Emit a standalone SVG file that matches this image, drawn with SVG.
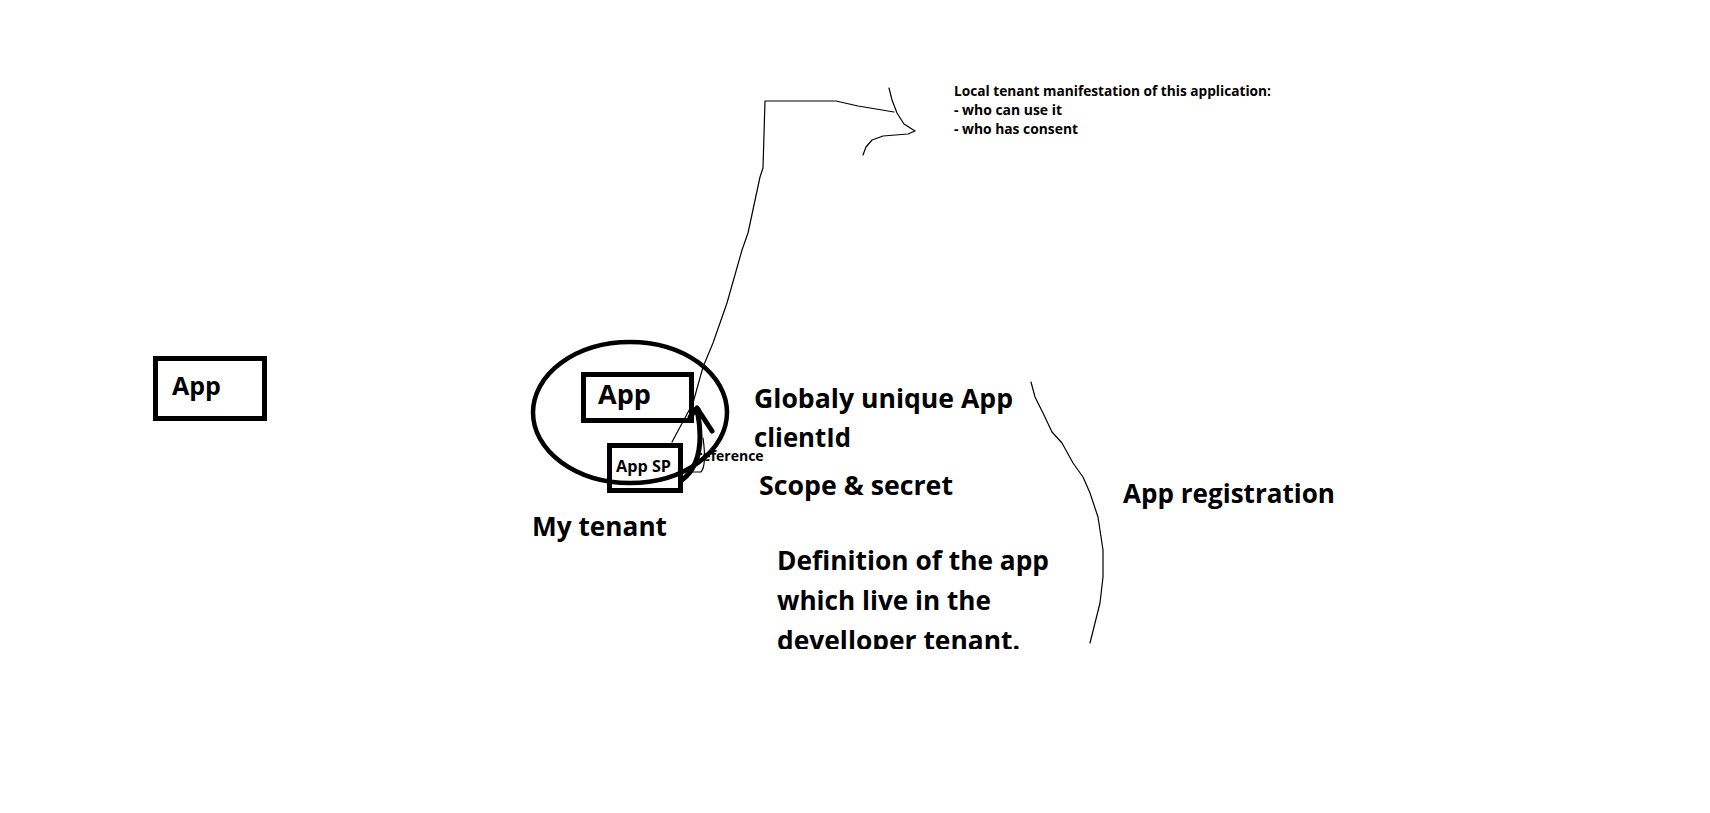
<svg xmlns="http://www.w3.org/2000/svg" width="1710" height="813" viewBox="0 0 1710 813">
<style>
.t{font-family:"Open Sans","Noto Sans","Liberation Sans",sans-serif;font-weight:700;fill:#000}
.big{font-size:27px}
.sm{font-size:14px}
.box{fill:none;stroke:#000;stroke-width:5}
.thin{fill:none;stroke:#000;stroke-width:1.2;stroke-linejoin:round;stroke-linecap:round}
.thick{fill:none;stroke:#000;stroke-width:5;stroke-linecap:round;stroke-linejoin:round}
</style>
<defs>
<clipPath id="defclip"><rect x="700" y="520" width="400" height="129"/></clipPath>
</defs>
<rect width="1710" height="813" fill="#fff"/>

<g id="node-left-app">
<rect class="box" x="155.5" y="358.5" width="109" height="60"/>
<text class="t" x="172" y="395" font-size="25">App</text>
</g>

<g id="node-my-tenant">
<ellipse cx="630" cy="412.5" rx="97" ry="70.5" fill="none" stroke="#000" stroke-width="4.5"/>
<text class="t big" x="532" y="536" textLength="135" lengthAdjust="spacingAndGlyphs">My tenant</text>
</g>

<g id="node-app">
<rect class="box" x="583.5" y="374.5" width="108" height="46"/>
<text class="t big" x="598" y="404">App</text>
</g>

<g id="node-app-sp">
<rect class="box" x="609.5" y="445.5" width="71" height="45"/>
<text class="t" x="616" y="472" font-size="16" textLength="55" lengthAdjust="spacingAndGlyphs">App SP</text>
</g>

<g id="labels">
<text class="t sm" x="696" y="461">reference</text>
<text class="t big" x="754" y="408" textLength="259" lengthAdjust="spacingAndGlyphs">Globaly unique App</text>
<text class="t big" x="754" y="447" textLength="97" lengthAdjust="spacingAndGlyphs">clientId</text>
<text class="t big" x="759" y="495" textLength="194" lengthAdjust="spacingAndGlyphs">Scope &amp; secret</text>
<text class="t big" x="1123" y="503" textLength="212" lengthAdjust="spacingAndGlyphs">App registration</text>
<g clip-path="url(#defclip)">
<text class="t big" x="777" y="570" textLength="272" lengthAdjust="spacingAndGlyphs">Definition of the app</text>
<text class="t big" x="777" y="610" textLength="214" lengthAdjust="spacingAndGlyphs">which live in the</text>
<text class="t big" x="777" y="650" textLength="243" lengthAdjust="spacingAndGlyphs">develloper tenant.</text>
</g>
<text class="t sm" x="954" y="96" textLength="317" lengthAdjust="spacingAndGlyphs">Local tenant manifestation of this application:</text>
<text class="t sm" x="954" y="115" textLength="108" lengthAdjust="spacingAndGlyphs">- who can use it</text>
<text class="t sm" x="954" y="134" textLength="124" lengthAdjust="spacingAndGlyphs">- who has consent</text>
</g>

<g id="connectors">
<path class="thin" d="M672,442 L693,403 L703,367 L713,343 L727,303 L742,250 L748,233 L760,177 L763,168 L765,101 L836,101 L858,106 L894,112"/>
<path class="thin" d="M889,88 L892,100 L897,113 L904,124 L915,131 L908,134 L883,136 L872,140 L866,147 L863,155"/>
<path class="thin" d="M1031,382 L1035,397 L1043,413 L1052,432 L1062,443 L1073,463 L1083,477 L1090,493 L1098,517 L1103,550 L1103,577 L1100,603 L1095,623 L1090,643"/>
<path class="thin" d="M703,438 C705,452 706,466 701,472 L688,472"/>
<path class="thick" d="M682,480 C694,471 700,456 700,436 C700,423 698,415 697,409"/>
<path class="thick" d="M690,417 L697,408 L712,431"/>
<circle cx="697" cy="411" r="4" fill="#000"/>
</g>
</svg>
